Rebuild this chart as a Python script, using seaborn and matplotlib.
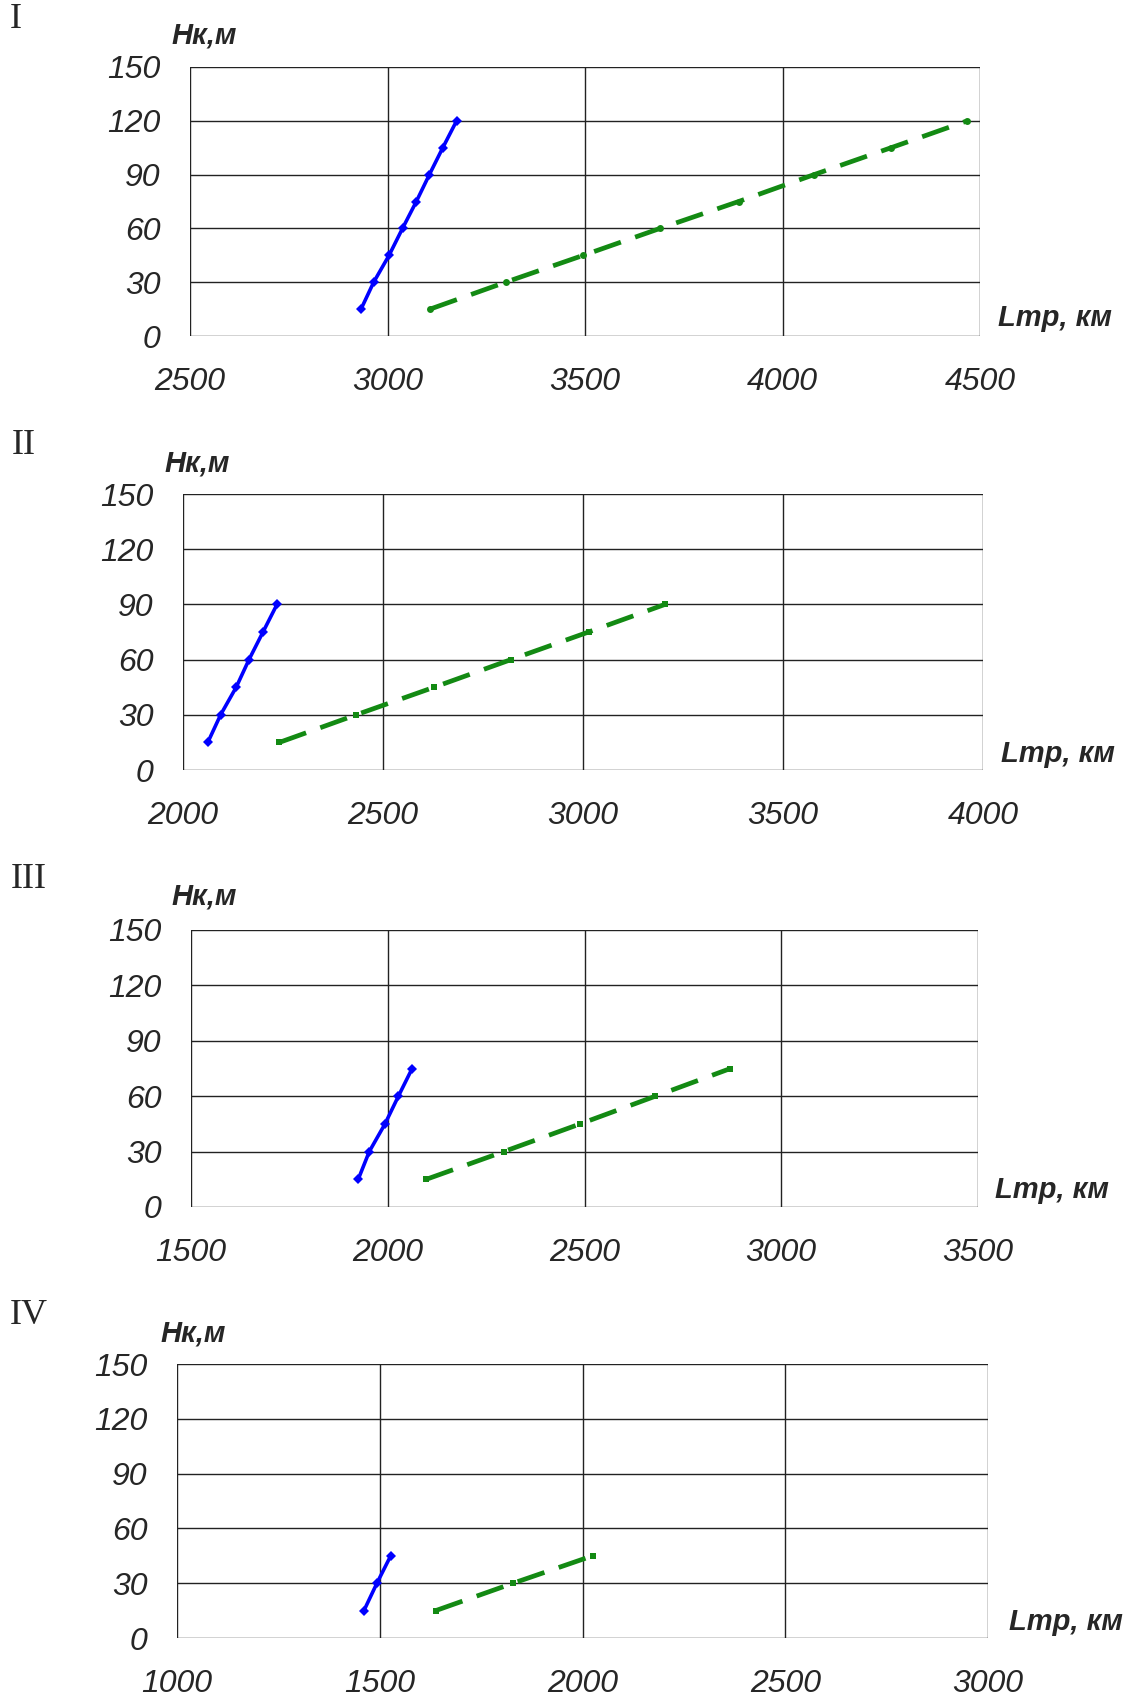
import matplotlib
matplotlib.use("Agg")
import matplotlib.pyplot as plt
import seaborn as sns

sns.set_style("white")
plt.rcParams['font.family'] = ['Liberation Sans Narrow', 'Liberation Sans', 'DejaVu Sans']

# heights, m
h_I = [15, 30, 45, 60, 75, 90, 105, 120]
h_II = [15, 30, 45, 60, 75, 90]
h_III = [15, 30, 45, 60, 75]
h_IV = [15, 30, 45]

# route length, km (blue solid / green dashed)
blue_I = [2933, 2965, 3004, 3038, 3073, 3106, 3140, 3175]
green_I = [3108, 3299, 3496, 3690, 3889, 4080, 4275, 4468]
blue_II = [2062, 2094, 2133, 2165, 2200, 2235]
green_II = [2241, 2433, 2628, 2820, 3014, 3205]
blue_III = [1925, 1953, 1993, 2027, 2062]
green_III = [2098, 2295, 2489, 2680, 2871]
blue_IV = [1461, 1493, 1527]
green_IV = [1638, 1829, 2025]

panel_names = ["I", "II", "III", "IV"]
x_ranges = [(2500, 4500), (2000, 4000), (1500, 3500), (1000, 3000)]
y_ticks = [0, 30, 60, 90, 120, 150]

panels = [
    (h_I, blue_I, green_I, 'o'),
    (h_II, blue_II, green_II, 's'),
    (h_III, blue_III, green_III, 's'),
    (h_IV, blue_IV, green_IV, 's'),
]

W, H = 1123, 1702
# axes boxes in pixels: left, top, right, bottom
boxes = [(190, 67, 980, 336), (183, 494, 983, 770),
         (191, 930, 978, 1207), (177, 1364, 988, 1638)]
roman_pos = [(16, 20), (24, 445), (29, 880), (29, 1316)]
ylab_pos = [(204, 35), (197, 463), (204, 897), (193, 1333)]
xlab_pos = [(1055, 318), (1058, 754), (1052, 1190), (1066, 1622)]

fig = plt.figure(figsize=(W / 100, H / 100), dpi=100)

for i, (hs, bx, gx, gm) in enumerate(panels):
    l, t, r, b = boxes[i]
    ax = fig.add_axes([l / W, 1 - b / H, (r - l) / W, (b - t) / H])
    x0, x1 = x_ranges[i]

    sns.lineplot(x=bx, y=hs, ax=ax, color='#0000ff', lw=2.6, marker='D',
                 markersize=5.5, markeredgewidth=0, sort=False)
    sns.lineplot(x=gx, y=hs, ax=ax, color='#138a13', lw=3.4, marker=gm,
                 markersize=5, markeredgewidth=0, sort=False,
                 linestyle=(0, (6, 3.2)))

    ax.set_xlim(x0, x1)
    ax.set_ylim(0, 150)
    ax.set_xticks(range(x0, x1 + 1, 500))
    ax.set_yticks(y_ticks)
    ax.grid(True, color='#222222', lw=1.0)
    for s in ax.spines.values():
        s.set_visible(False)
    ax.tick_params(direction='out', length=9, width=1.0, color='#555555',
                   labelsize=23, pad=12)
    ax.tick_params(axis='x', pad=13)
    for lab in ax.get_xticklabels() + ax.get_yticklabels():
        lab.set_fontstyle('italic')
    ax.set_xlabel('')
    ax.set_ylabel('')

    fig.text(roman_pos[i][0] / W, 1 - roman_pos[i][1] / H, panel_names[i],
             family='Liberation Serif', fontsize=26, ha='center', va='center')
    fig.text(ylab_pos[i][0] / W, 1 - ylab_pos[i][1] / H, 'Нк,м',
             fontsize=21, fontweight='bold', fontstyle='italic',
             ha='center', va='center')
    fig.text(xlab_pos[i][0] / W, 1 - xlab_pos[i][1] / H, 'Lmp, км',
             fontsize=21, fontweight='bold', fontstyle='italic',
             ha='center', va='center')

fig.savefig('out.png', dpi=100, facecolor='white')
